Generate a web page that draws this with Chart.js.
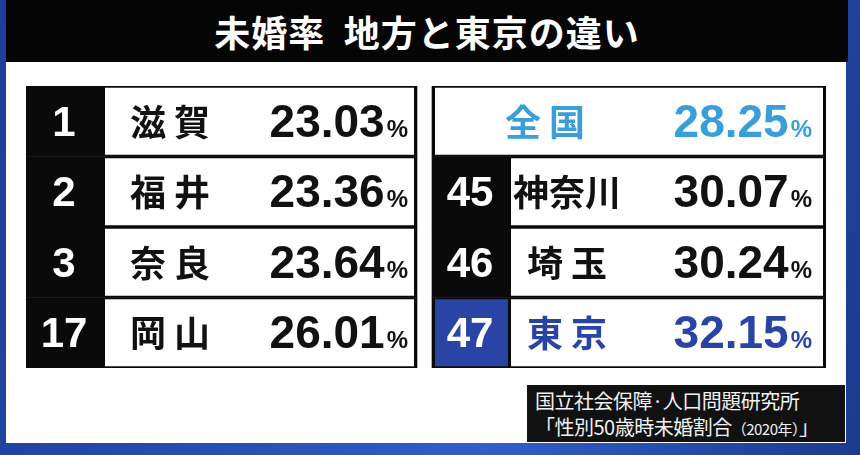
<!DOCTYPE html>
<html><head><meta charset="utf-8">
<script src="https://cdn.jsdelivr.net/npm/chart.js@4"></script>
<style>
body{margin:0;width:860px;height:455px;overflow:hidden;background:linear-gradient(100deg,#1d3f9a,#2f5fc8 60%,#1c3a8e);font-family:"Noto Sans CJK JP",sans-serif;position:relative}
#panel{position:absolute;left:6px;top:60px;width:840px;height:383px;background:#fff}
#title{position:absolute;left:6px;top:0;width:842px;height:62px;background:#050505;color:#fff;font-weight:bold;font-size:36px;text-align:center;line-height:62px;letter-spacing:1px}
#src{position:absolute;left:527px;top:385px;width:318px;height:57px;background:#111;color:#f2f2f2;font-size:20px;line-height:26px;padding:3px 0 0 8px;box-sizing:border-box;white-space:nowrap;letter-spacing:-0.5px}
#src small{font-size:15px}
#wrap{position:absolute;left:26px;top:86px;width:800px;height:282px}
</style></head><body>
<div id="panel"></div>
<div id="title">未婚率&nbsp;&nbsp;地方と東京の違い</div>
<div id="wrap"><canvas id="chart"></canvas></div>
<div id="src">国立社会保障·人口問題研究所<br>「性別50歳時未婚割合<small>（2020年）</small>」</div>
<script>
// left table: lowest rates
const leftRanks = ['1', '2', '3', '17'];
const leftNames = ['滋 賀', '福 井', '奈 良', '岡 山'];
const leftValues = [23.03, 23.36, 23.64, 26.01];
// right table: national average + highest rates
const rightRanks = ['', '45', '46', '47'];
const rightNames = ['全 国', '神奈川', '埼 玉', '東 京'];
const rightValues = [28.25, 30.07, 30.24, 32.15];
const rows = ['r1', 'r2', 'r3', 'r4'];

// table geometry in x units (0..800 = canvas width)
const L0 = 0, L1 = 391, R0 = 406, R1 = 800, RANK_W = 76, IN = 3;

const blue = '#2a44a6', sky = '#3a9fd9';
const NUM = '"Liberation Sans", Arial, sans-serif';

const ctx = document.getElementById('chart').getContext('2d');

const textPlugin = {
  id: 'cellText',
  afterDatasetsDraw(chart) {
    const c = chart.ctx;
    const x = chart.scales.x, y = chart.scales.y;
    rows.forEach((r, i) => {
      const cy = y.getPixelForValue(i) + 3;
      c.textBaseline = 'middle';
      // left table
      c.fillStyle = '#fff'; c.textAlign = 'center';
      c.font = 'bold 42px ' + NUM;
      c.fillText(leftRanks[i], x.getPixelForValue(L0 + RANK_W / 2), cy);
      drawRow(c, leftNames[i], leftValues[i], x.getPixelForValue(144), x.getPixelForValue(382), cy, '#111');
      // right table
      const col = i === 0 ? sky : (i === 3 ? blue : '#111');
      if (rightRanks[i]) {
        c.fillStyle = '#fff'; c.textAlign = 'center';
        c.font = 'bold 42px ' + NUM;
        c.fillText(rightRanks[i], x.getPixelForValue(R0 + RANK_W / 2), cy);
      }
      drawRow(c, rightNames[i], rightValues[i], x.getPixelForValue(i === 0 ? 519 : 541), x.getPixelForValue(786), cy, col);
    });
  }
};

function drawRow(c, name, val, nameX, endX, cy, color) {
  c.fillStyle = color;
  c.textAlign = 'center';
  c.font = 'bold 36px "Noto Sans CJK JP"';
  c.fillText(name, nameX, cy - 2);
  c.textAlign = 'right';
  c.font = 'bold 24px ' + NUM;
  c.fillText('%', endX, cy + 6);
  const pw = c.measureText('%').width;
  c.font = 'bold 46px ' + NUM;
  c.fillText(val.toFixed(2), endX - pw - 2, cy);
}

new Chart(ctx, {
  type: 'bar',
  data: {
    labels: rows,
    datasets: [
      { // rank cells (coloured)
        data: rightRanks.map(r => r === '47' ? [R0 + IN, R0 + RANK_W] : null),
        backgroundColor: blue, grouped: false, barPercentage: 0.95, categoryPercentage: 1, order: 0
      },
      { // white cells, left
        data: rows.map(() => [L0 + RANK_W + IN, L1 - IN]),
        backgroundColor: '#fff', grouped: false, barPercentage: 0.95, categoryPercentage: 1, order: 1
      },
      { // white cells, right
        data: rightRanks.map(r => r ? [R0 + RANK_W + IN, R1 - IN] : [R0 + IN, R1 - IN]),
        backgroundColor: '#fff', grouped: false, barPercentage: 0.95, categoryPercentage: 1, order: 2
      },
      { // black table frames
        data: rows.map(() => [L0, L1]),
        backgroundColor: '#0a0a0a', grouped: false, barPercentage: 1, categoryPercentage: 1, order: 3
      },
      {
        data: rows.map(() => [R0, R1]),
        backgroundColor: '#0a0a0a', grouped: false, barPercentage: 1, categoryPercentage: 1, order: 3
      }
    ]
  },
  options: {
    indexAxis: 'y',
    responsive: true, maintainAspectRatio: false, animation: false,
    layout: { padding: 0 },
    plugins: { legend: { display: false }, tooltip: { enabled: false } },
    scales: {
      x: { type: 'linear', min: 0, max: 800, display: false },
      y: { display: false }
    }
  },
  plugins: [textPlugin]
});
</script>
</body></html>
